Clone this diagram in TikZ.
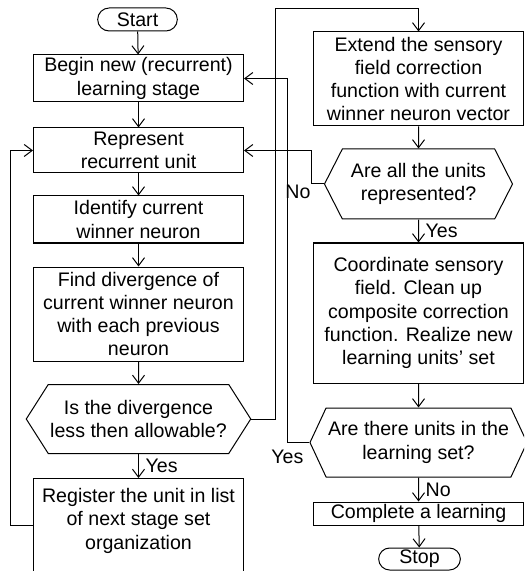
\documentclass[tikz,border=0pt]{standalone}
\usepackage{fontspec}
\setmainfont{Liberation Sans}
\usetikzlibrary{shapes.misc,shapes.symbols,arrows.meta}
\tikzset{
 block/.style={draw,align=center,minimum width=105pt,inner xsep=1pt,inner ysep=1pt},
 decide/.style={draw,signal,signal to=west and east,align=center,minimum width=105pt,minimum height=34.5pt,inner xsep=1pt,inner ysep=1pt},
 term/.style={draw,rounded rectangle,minimum width=46.5pt,minimum height=11.5pt,inner ysep=1pt},
 >={Straight Barb[length=4pt,width=6pt]}
}
\begin{document}
\begin{tikzpicture}[x=0.5pt,y=-0.5pt,line width=0.5pt,font=\fontsize{9.8}{11.6}\selectfont]
\useasboundingbox (0,0) rectangle (524,571);
\clip (0,0) rectangle (524,571);
%left column
\node[term] (start) at (137.5,19.5) {Start};
\node[block,minimum height=23.5pt] (begin) at (138.5,78.5) {Begin new (recurrent)\\learning stage};
\node[block,minimum height=22.5pt] (repr) at (138.5,150.5) {Represent\\recurrent unit};
\node[block,minimum height=23.5pt] (ident) at (138.5,219.5) {Identify current\\winner neuron};
\node[block,minimum height=47pt] (diverg) at (138.5,314) {Find divergence of\\current winner neuron\\with each previous\\neuron};
\node[decide,signal pointer angle=115] (isdiv) at (138.5,419) {Is the divergence\\less then allowable?};
\node[block,anchor=north,inner ysep=5pt,text depth=40pt] (reg) at (138.5,478) {Register the unit in list\\of next stage set\\organization};
%right column
\node[block,minimum height=47pt] (extend) at (418.5,79) {Extend the sensory\\field correction\\function with current\\winner neuron vector};
\node[decide,signal pointer angle=126,minimum width=94pt,minimum height=35pt] (allunits) at (418.5,184) {Are all the units\\represented?};
\node[block,minimum height=70pt] (coord) at (418.5,313) {Coordinate sensory\\field. Clean up\\composite correction\\function. Realize new\\learning units' set};
\node[decide,signal pointer angle=130] (anyunits) at (418.5,442.5) {Are there units in the\\learning set?};
\node[block,minimum height=11.5pt] (complete) at (418.5,513.5) {Complete a learning};
\node[term,minimum width=47.5pt,minimum height=11pt] (stop) at (419.5,559) {Stop};
%arrows
\draw[->] (start) -- (begin);
\draw[->] (begin) -- (repr);
\draw[->] (repr) -- (ident);
\draw[->] (ident) -- (diverg);
\draw[->] (diverg) -- (isdiv);
\draw[->] (isdiv.south) -- node[right]{Yes} (reg.north);
\draw[->] ([yshift=-23.5pt]reg.north west) -- ++(-23,0) |- (repr.west);
\draw[->] (isdiv.east) -- ++(24,0) |- ([yshift=11.5pt]extend.north) -- (extend.north);
\draw[->] (extend) -- (allunits);
\draw[->] (allunits.west) -- ++(-12,0) node[below left,inner sep=0.5pt]{No} |- (repr.east);
\draw[->] (allunits) -- node[right]{Yes} (coord);
\draw[->] (coord) -- (anyunits);
\draw[->] (anyunits.west) -- ++(-22,0) node[below]{Yes} |- (begin.east);
\draw[->] (anyunits) -- node[right]{No} (complete);
\draw[->] (complete) -- (stop);
\end{tikzpicture}
\end{document}
